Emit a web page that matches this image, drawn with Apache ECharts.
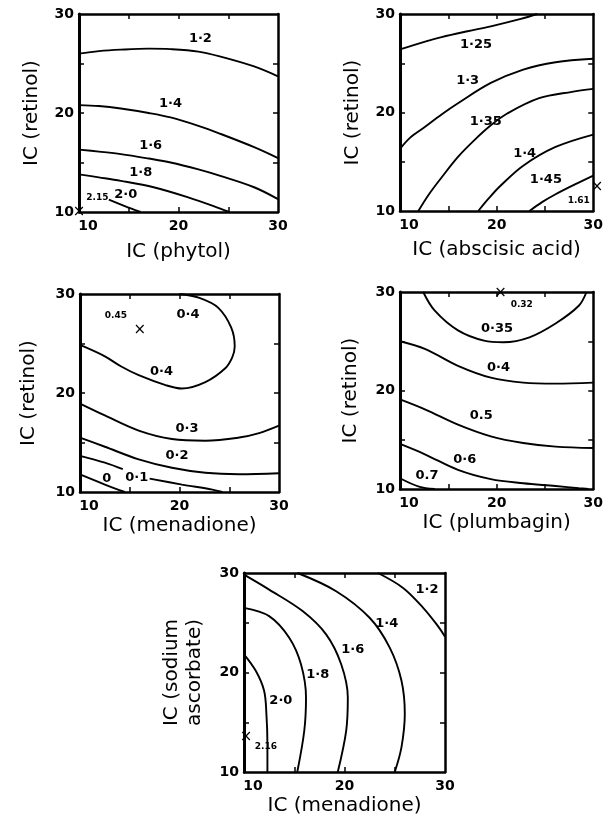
<!DOCTYPE html>
<html>
<head>
<meta charset="utf-8">
<script src="https://cdn.jsdelivr.net/npm/echarts@6/dist/echarts.min.js"></script>
<style>
  html, body { margin: 0; background: #fff; }
  #chart { width: 606px; height: 820px; }
</style>
</head>
<body>
<div id="chart"></div>
<script>
// shared axis values
const tickValues = [10, 20, 30]
const minorTicks = [15, 20, 25]

// panel 1: retinol vs phytol
const phytolCurves = [
  [[10, 26.0], [12, 26.25], [14.2, 26.4], [17, 26.5], [19.2, 26.45], [22, 26.2], [24.2, 25.7], [27.6, 24.7], [30, 23.7]],
  [[10, 20.8], [12, 20.7], [14.2, 20.45], [17, 20.0], [19.2, 19.55], [22, 18.7], [24.2, 17.9], [27.6, 16.55], [30, 15.45]],
  [[10, 16.3], [12, 16.1], [14.2, 15.85], [17, 15.4], [19.2, 15.0], [22, 14.3], [24.2, 13.65], [27.6, 12.5], [30, 11.3]],
  [[10, 13.8], [12, 13.5], [14.2, 13.15], [17.5, 12.5], [20.9, 11.5], [24.2, 10.35], [25.1, 10]],
  [[13.0, 11.25], [14.6, 10.6], [16.2, 10]]
]
const phytolLabels = [['1·2', 22.2, 27.5], ['1·4', 19.2, 20.9], ['1·6', 17.2, 16.7], ['1·8', 16.2, 14.0], ['2·0', 14.7, 11.75]]
const phytolOptimum = [['2.15', 11.85, 11.4]]
const phytolMark = [[10, 10]]

// panel 2: retinol vs abscisic acid
const abscisicCurves = [
  [[10, 26.4], [12.6, 27.2], [14.3, 27.65], [17, 28.25], [19.4, 28.75], [22.5, 29.5], [24.2, 30]],
  [[10, 16.3], [11, 17.4], [12.6, 18.55], [14.3, 19.8], [16.0, 20.94], [19.4, 23.0], [22.75, 24.36], [26.1, 25.1], [30, 25.45]],
  [[11.9, 10], [13, 11.7], [14.3, 13.4], [16, 15.5], [17.7, 17.2], [19.4, 18.7], [21.1, 19.9], [24.4, 21.45], [27.8, 22.1], [30, 22.4]],
  [[18.1, 10], [19.2, 11.3], [20.4, 12.56], [22.75, 14.6], [26.1, 16.5], [30, 17.76]],
  [[23.4, 10], [24.7, 10.9], [26.1, 11.7], [28.1, 12.7], [30, 13.6]]
]
const abscisicLabels = [['1·25', 17.86, 26.9], ['1·3', 17.0, 23.2], ['1·35', 18.87, 19.1], ['1·4', 22.9, 15.8], ['1·45', 25.1, 13.15]]
const abscisicOptimum = [['1.61', 28.5, 11.0]]
const abscisicMark = [[30.4, 12.4]]

// panel 3: retinol vs menadione
const menadioneCurves = [
  [[10, 24.85], [12.5, 23.7], [14.1, 22.7], [15.9, 21.8], [18.6, 20.8], [20.25, 20.45], [22.6, 21.1], [24.6, 22.5], [25.3, 23.6], [25.55, 24.7], [25.2, 26.6], [23.9, 28.6], [22, 29.6], [20, 30]],
  [[10, 18.93], [12.5, 17.73], [15.9, 16.2], [19.24, 15.35], [22.6, 15.18], [26.0, 15.5], [28, 15.95], [30, 16.7]],
  [[10, 15.5], [12.5, 14.57], [15.9, 13.3], [19.24, 12.45], [22.6, 11.94], [26, 11.8], [30, 11.9]],
  [[10, 13.65], [12.5, 12.96], [14.3, 12.3]],
  [[17.0, 11.35], [20.25, 10.75], [23.3, 10.24], [24.3, 10]],
  [[10, 11.77], [12.5, 10.75], [14.5, 10]]
]
const menadioneLabels = [['0·4', 20.85, 27.9], ['0·4', 18.2, 22.2], ['0·3', 20.76, 16.4], ['0·2', 19.75, 13.65], ['0·1', 15.7, 11.5], ['0', 12.7, 11.4]]
const menadioneOptimum = [['0.45', 13.6, 27.8]]
const menadioneMark = [[16.0, 26.4]]

// panel 4: retinol vs plumbagin
const plumbaginCurves = [
  [[12.4, 30], [13.6, 28.1], [16.0, 26.1], [18.7, 25.06], [20.7, 24.9], [23.4, 25.4], [26.1, 26.8], [28.5, 28.6], [29.3, 30]],
  [[10, 25.0], [12.63, 24.2], [16.0, 22.5], [19.4, 21.3], [22.75, 20.8], [26.1, 20.7], [30, 20.8]],
  [[10, 19.1], [12.63, 18.07], [16.0, 16.54], [19.4, 15.35], [22.75, 14.67], [26.1, 14.3], [30, 14.16]],
  [[10, 14.57], [12.63, 13.5], [16.0, 11.94], [19.4, 11.0], [22.75, 10.58], [26.1, 10.3], [28.5, 10.07], [29.5, 10]],
  [[10, 11.09], [11.96, 10.24], [13.6, 10]]
]
const plumbaginLabels = [['0·35', 20.05, 26.25], ['0·4', 20.2, 22.3], ['0.5', 18.4, 17.4], ['0·6', 16.7, 12.96], ['0.7', 12.8, 11.4]]
const plumbaginOptimum = [['0.32', 22.6, 28.7]]
const plumbaginMark = [[20.4, 29.9]]

// panel 5: sodium ascorbate vs menadione
const ascorbateCurves = [
  [[10, 21.83], [11.17, 20.17], [12.0, 18.17], [12.23, 15.83], [12.33, 12.83], [12.33, 10]],
  [[10, 26.5], [12.5, 25.67], [14.5, 23.5], [15.67, 20.83], [16.17, 17.5], [16.0, 14.17], [15.3, 10]],
  [[10, 29.83], [12.5, 28.33], [15.83, 26.17], [18.17, 23.83], [19.67, 20.83], [20.33, 17.5], [20.17, 14.17], [19.33, 10]],
  [[15.33, 30], [19.17, 28.17], [22.5, 25.5], [24.5, 22.5], [25.67, 19.17], [26.0, 15.83], [25.67, 12.5], [25.0, 10]],
  [[23.33, 30], [25.83, 28.5], [27.83, 26.5], [29.17, 24.83], [30, 23.6]]
]
const ascorbateLabels = [['1·2', 28.2, 28.3], ['1·4', 24.2, 24.9], ['1·6', 20.83, 22.33], ['1·8', 17.33, 19.83], ['2·0', 13.67, 17.17]]
const ascorbateOptimum = [['2.16', 12.17, 12.5]]
const ascorbateMark = [[10.2, 13.5]]

const FONT = 'DejaVu Sans'

const panels = [
  { box: { left: 79, top: 14, width: 199, height: 198 }, xName: 'IC (phytol)', yName: 'IC (retinol)', xGap: 28, yGap: 36,
    curves: phytolCurves, labels: phytolLabels, optimum: phytolOptimum, mark: phytolMark },
  { box: { left: 400, top: 14, width: 200, height: 197 }, xName: 'IC (abscisic acid)', yName: 'IC (retinol)', xGap: 27, yGap: 36,
    curves: abscisicCurves, labels: abscisicLabels, optimum: abscisicOptimum, mark: abscisicMark },
  { box: { left: 80, top: 294, width: 199, height: 198 }, xName: 'IC (menadione)', yName: 'IC (retinol)', xGap: 19, yGap: 40,
    curves: menadioneCurves, labels: menadioneLabels, optimum: menadioneOptimum, mark: menadioneMark },
  { box: { left: 400, top: 292, width: 199, height: 197 }, xName: 'IC (plumbagin)', yName: 'IC (retinol)', xGap: 21, yGap: 38,
    curves: plumbaginCurves, labels: plumbaginLabels, optimum: plumbaginOptimum, mark: plumbaginMark },
  { box: { left: 244, top: 573, width: 201, height: 199 }, xName: 'IC (menadione)', yName: 'IC (sodium\nascorbate)', xGap: 22, yGap: 38,
    curves: ascorbateCurves, labels: ascorbateLabels, optimum: ascorbateOptimum, mark: ascorbateMark }
]

const tickFont = { color: '#000', fontFamily: FONT, fontWeight: 'bold', fontSize: 14 }
const levelFont = { color: '#000', fontFamily: FONT, fontWeight: 'bold', fontSize: 13, opacity: 1, textBorderWidth: 0 }
const nameFont = { color: '#000', fontFamily: FONT, fontSize: 20, lineHeight: 23 }

function frame(width) {
  return { show: true, onZero: false, lineStyle: { color: '#000', width: width } }
}
const innerTicks = { show: true, inside: true, length: 5, customValues: minorTicks, lineStyle: { color: '#000', width: 1.5 } }

const grid = [], xAxis = [], yAxis = [], series = []

panels.forEach((p, i) => {
  grid.push(Object.assign({ containLabel: false }, p.box))
  xAxis.push({
    gridIndex: i, type: 'value', min: 10, max: 30, position: 'bottom',
    axisLine: frame(2.5), axisTick: innerTicks, splitLine: { show: false },
    axisLabel: Object.assign({
      customValues: tickValues, margin: 7,
      // the "10" sits right of the corner so it clears the y labels
      formatter: v => v === 10 ? '{lo|10}' : String(v),
      rich: { lo: Object.assign({ padding: [0, 0, 0, 18] }, tickFont) }
    }, tickFont),
    name: p.xName, nameLocation: 'middle', nameGap: p.xGap, nameTextStyle: nameFont
  })
  xAxis.push({
    gridIndex: i, type: 'value', min: 10, max: 30, position: 'top',
    axisLine: frame(2.5), axisTick: innerTicks, axisLabel: { show: false }, splitLine: { show: false }
  })
  yAxis.push({
    gridIndex: i, type: 'value', min: 10, max: 30, position: 'left',
    axisLine: frame(3), axisTick: innerTicks, splitLine: { show: false },
    axisLabel: Object.assign({ customValues: tickValues, margin: 5 }, tickFont),
    name: p.yName, nameLocation: 'middle', nameGap: p.yGap, nameTextStyle: nameFont
  })
  yAxis.push({
    gridIndex: i, type: 'value', min: 10, max: 30, position: 'right',
    axisLine: frame(2.5), axisTick: innerTicks, axisLabel: { show: false }, splitLine: { show: false }
  })

  const ax = { xAxisIndex: 2 * i, yAxisIndex: 2 * i }
  p.curves.forEach(c => {
    series.push(Object.assign({
      type: 'line', data: c, smooth: 0.35, symbol: 'none', silent: true,
      lineStyle: { color: '#000', width: 1.9 }
    }, ax))
  })
  const textOnly = { type: 'scatter', symbolSize: 0, itemStyle: { color: '#000', opacity: 1 }, silent: true, clip: false }
  series.push(Object.assign({}, textOnly, {
    data: p.labels.map(l => ({ name: l[0], value: [l[1], l[2]] })),
    label: Object.assign({ show: true, position: 'inside', formatter: '{b}' }, levelFont)
  }, ax))
  series.push(Object.assign({}, textOnly, {
    data: p.optimum.map(l => ({ name: l[0], value: [l[1], l[2]] })),
    label: Object.assign({ show: true, position: 'inside', formatter: '{b}' }, levelFont, { fontSize: 9 })
  }, ax))
  series.push(Object.assign({}, textOnly, {
    data: p.mark,
    label: Object.assign({ show: true, position: 'inside', formatter: '×' }, levelFont, { fontWeight: 'normal', fontSize: 15 })
  }, ax))
})

const chart = echarts.init(document.getElementById('chart'))
chart.setOption({
  animation: false,
  backgroundColor: '#fff',
  grid: grid,
  xAxis: xAxis,
  yAxis: yAxis,
  series: series
})
</script>
</body>
</html>
